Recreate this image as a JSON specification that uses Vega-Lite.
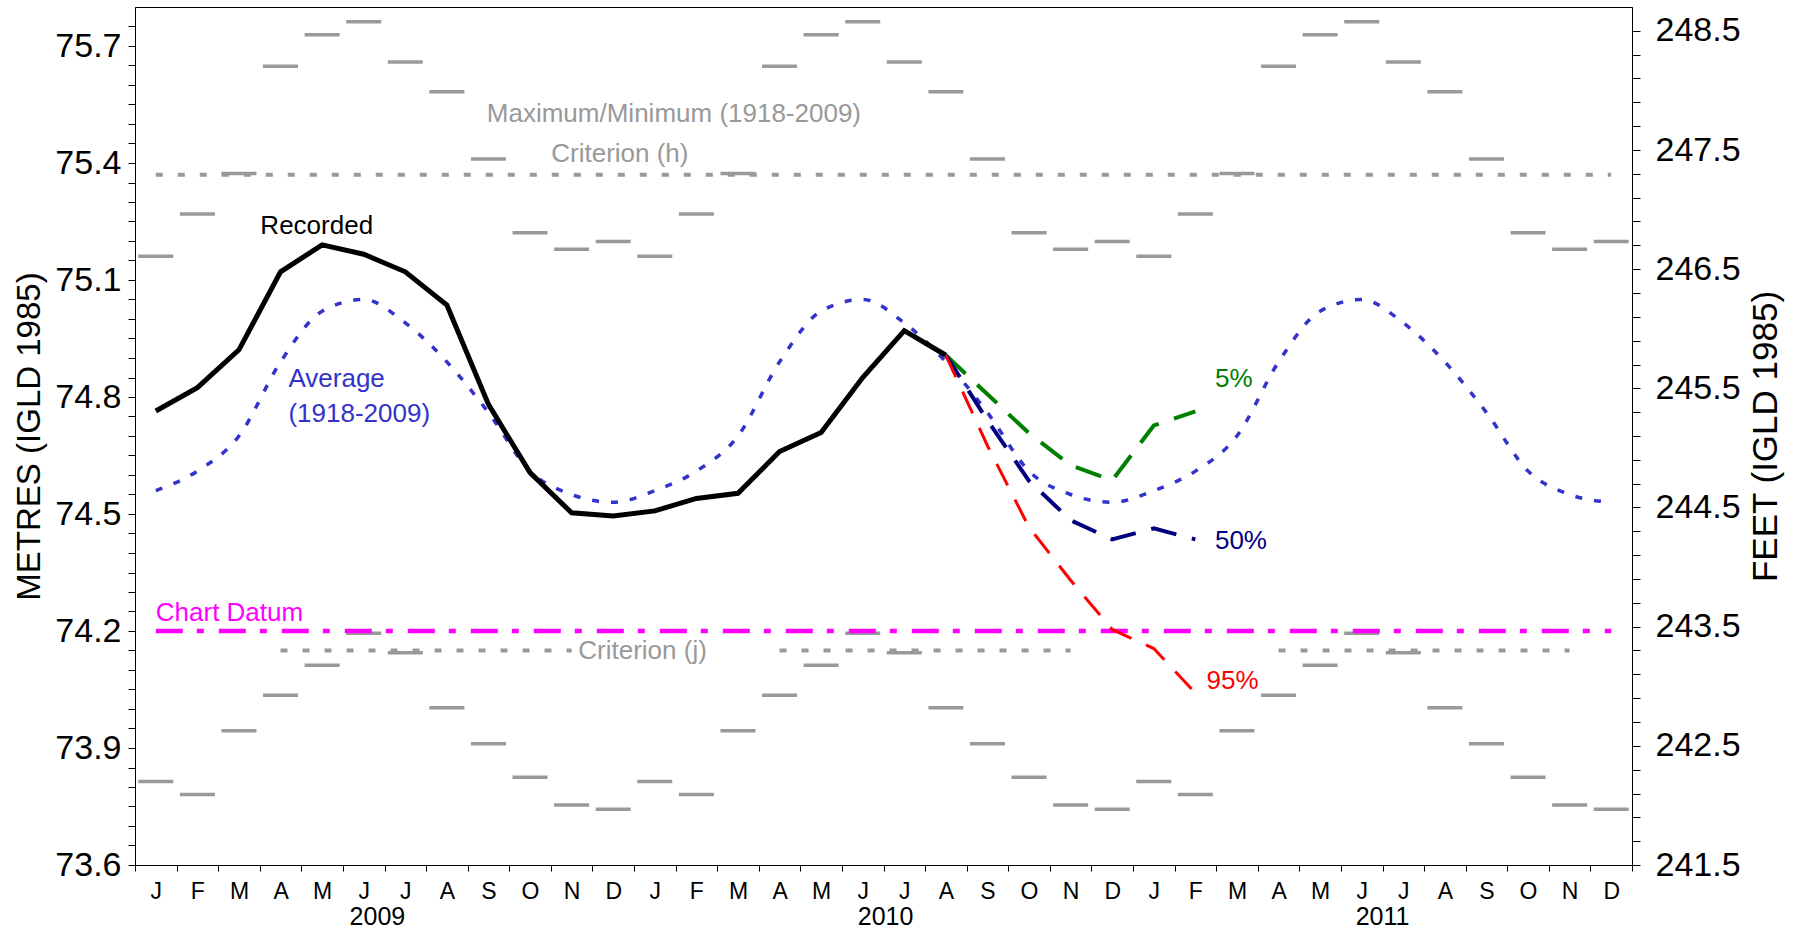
{
  "$schema": "https://vega.github.io/schema/vega-lite/v6.json",
  "width": 1497,
  "height": 858,
  "autosize": {"type": "none"},
  "padding": {"left": 135, "top": 7, "right": 171, "bottom": 64},
  "background": "white",
  "config": {
    "font": "Liberation Sans",
    "view": {"stroke": "#000000", "strokeWidth": 1},
    "axis": {"grid": false, "domainColor": "#000000", "tickColor": "#000000", "labelColor": "#000000", "titleColor": "#000000", "titleFontWeight": "normal", "labelFlush": false, "labelOverlap": false, "labelFont": "Liberation Sans", "titleFont": "Liberation Sans"}
  },
  "datasets": {
    "hist": [
      {"month": 1, "stat": "max", "level": 75.161}, {"month": 2, "stat": "max", "level": 75.269}, {"month": 3, "stat": "max", "level": 75.373}, {"month": 4, "stat": "max", "level": 75.648}, {"month": 5, "stat": "max", "level": 75.729}, {"month": 6, "stat": "max", "level": 75.762}, {"month": 7, "stat": "max", "level": 75.659}, {"month": 8, "stat": "max", "level": 75.583}, {"month": 9, "stat": "max", "level": 75.41}, {"month": 10, "stat": "max", "level": 75.221}, {"month": 11, "stat": "max", "level": 75.179}, {"month": 12, "stat": "max", "level": 75.199},
      {"month": 13, "stat": "max", "level": 75.161}, {"month": 14, "stat": "max", "level": 75.269}, {"month": 15, "stat": "max", "level": 75.373}, {"month": 16, "stat": "max", "level": 75.648}, {"month": 17, "stat": "max", "level": 75.729}, {"month": 18, "stat": "max", "level": 75.762}, {"month": 19, "stat": "max", "level": 75.659}, {"month": 20, "stat": "max", "level": 75.583}, {"month": 21, "stat": "max", "level": 75.41}, {"month": 22, "stat": "max", "level": 75.221}, {"month": 23, "stat": "max", "level": 75.179}, {"month": 24, "stat": "max", "level": 75.199},
      {"month": 25, "stat": "max", "level": 75.161}, {"month": 26, "stat": "max", "level": 75.269}, {"month": 27, "stat": "max", "level": 75.373}, {"month": 28, "stat": "max", "level": 75.648}, {"month": 29, "stat": "max", "level": 75.729}, {"month": 30, "stat": "max", "level": 75.762}, {"month": 31, "stat": "max", "level": 75.659}, {"month": 32, "stat": "max", "level": 75.583}, {"month": 33, "stat": "max", "level": 75.41}, {"month": 34, "stat": "max", "level": 75.221}, {"month": 35, "stat": "max", "level": 75.179}, {"month": 36, "stat": "max", "level": 75.199},
      {"month": 1, "stat": "min", "level": 73.814}, {"month": 2, "stat": "min", "level": 73.781}, {"month": 3, "stat": "min", "level": 73.944}, {"month": 4, "stat": "min", "level": 74.035}, {"month": 5, "stat": "min", "level": 74.112}, {"month": 6, "stat": "min", "level": 74.194}, {"month": 7, "stat": "min", "level": 74.144}, {"month": 8, "stat": "min", "level": 74.003}, {"month": 9, "stat": "min", "level": 73.911}, {"month": 10, "stat": "min", "level": 73.825}, {"month": 11, "stat": "min", "level": 73.754}, {"month": 12, "stat": "min", "level": 73.743},
      {"month": 13, "stat": "min", "level": 73.814}, {"month": 14, "stat": "min", "level": 73.781}, {"month": 15, "stat": "min", "level": 73.944}, {"month": 16, "stat": "min", "level": 74.035}, {"month": 17, "stat": "min", "level": 74.112}, {"month": 18, "stat": "min", "level": 74.194}, {"month": 19, "stat": "min", "level": 74.144}, {"month": 20, "stat": "min", "level": 74.003}, {"month": 21, "stat": "min", "level": 73.911}, {"month": 22, "stat": "min", "level": 73.825}, {"month": 23, "stat": "min", "level": 73.754}, {"month": 24, "stat": "min", "level": 73.743},
      {"month": 25, "stat": "min", "level": 73.814}, {"month": 26, "stat": "min", "level": 73.781}, {"month": 27, "stat": "min", "level": 73.944}, {"month": 28, "stat": "min", "level": 74.035}, {"month": 29, "stat": "min", "level": 74.112}, {"month": 30, "stat": "min", "level": 74.194}, {"month": 31, "stat": "min", "level": 74.144}, {"month": 32, "stat": "min", "level": 74.003}, {"month": 33, "stat": "min", "level": 73.911}, {"month": 34, "stat": "min", "level": 73.825}, {"month": 35, "stat": "min", "level": 73.754}, {"month": 36, "stat": "min", "level": 73.743}
    ],
    "avg": [
      {"month": 1, "level": 74.56}, {"month": 2, "level": 74.61}, {"month": 3, "level": 74.7}, {"month": 4, "level": 74.89}, {"month": 5, "level": 75.02}, {"month": 6, "level": 75.05}, {"month": 7, "level": 74.99}, {"month": 8, "level": 74.89}, {"month": 9, "level": 74.76}, {"month": 10, "level": 74.61}, {"month": 11, "level": 74.55}, {"month": 12, "level": 74.53},
      {"month": 13, "level": 74.56}, {"month": 14, "level": 74.61}, {"month": 15, "level": 74.7}, {"month": 16, "level": 74.89}, {"month": 17, "level": 75.02}, {"month": 18, "level": 75.05}, {"month": 19, "level": 74.99}, {"month": 20, "level": 74.89}, {"month": 21, "level": 74.76}, {"month": 22, "level": 74.61}, {"month": 23, "level": 74.55}, {"month": 24, "level": 74.53},
      {"month": 25, "level": 74.56}, {"month": 26, "level": 74.61}, {"month": 27, "level": 74.7}, {"month": 28, "level": 74.89}, {"month": 29, "level": 75.02}, {"month": 30, "level": 75.05}, {"month": 31, "level": 74.99}, {"month": 32, "level": 74.89}, {"month": 33, "level": 74.76}, {"month": 34, "level": 74.61}, {"month": 35, "level": 74.55}, {"month": 36, "level": 74.53}
    ],
    "recorded": [
      {"month": 1, "level": 74.764}, {"month": 2, "level": 74.824}, {"month": 3, "level": 74.921}, {"month": 4, "level": 75.121}, {"month": 5, "level": 75.19}, {"month": 6, "level": 75.166}, {"month": 7, "level": 75.121}, {"month": 8, "level": 75.036}, {"month": 9, "level": 74.781}, {"month": 10, "level": 74.606}, {"month": 11, "level": 74.503}, {"month": 12, "level": 74.495},
      {"month": 13, "level": 74.508}, {"month": 14, "level": 74.54}, {"month": 15, "level": 74.553}, {"month": 16, "level": 74.66}, {"month": 17, "level": 74.709}, {"month": 18, "level": 74.85}, {"month": 19, "level": 74.97}, {"month": 20, "level": 74.907}
    ],
    "f5": [
      {"month": 20, "level": 74.907}, {"month": 21, "level": 74.807}, {"month": 22, "level": 74.707}, {"month": 23, "level": 74.625}, {"month": 24, "level": 74.586}, {"month": 25, "level": 74.727}, {"month": 26, "level": 74.763}
    ],
    "f50": [
      {"month": 20, "level": 74.907}, {"month": 21, "level": 74.74}, {"month": 22, "level": 74.585}, {"month": 23, "level": 74.484}, {"month": 24, "level": 74.435}, {"month": 25, "level": 74.463}, {"month": 26, "level": 74.435}
    ],
    "f95": [
      {"month": 20, "level": 74.907}, {"month": 21, "level": 74.675}, {"month": 22, "level": 74.466}, {"month": 23, "level": 74.33}, {"month": 24, "level": 74.204}, {"month": 25, "level": 74.155}, {"month": 26, "level": 74.041}
    ],
    "critH": [
      {"month": 1, "level": 75.37}, {"month": 36, "level": 75.37}
    ],
    "critJ": [
      {"month": 4, "level": 74.15, "year": 2009}, {"month": 11, "level": 74.15, "year": 2009},
      {"month": 16, "level": 74.15, "year": 2010}, {"month": 23, "level": 74.15, "year": 2010},
      {"month": 28, "level": 74.15, "year": 2011}, {"month": 35, "level": 74.15, "year": 2011}
    ],
    "chartDatum": [
      {"month": 1, "level": 74.2}, {"month": 36, "level": 74.2}
    ],
    "labelsCenter": [
      {"month": 13.46, "level": 75.526, "text": "Maximum/Minimum (1918-2009)", "series": "Max/Min"},
      {"month": 12.16, "level": 75.423, "text": "Criterion (h)", "series": "Max/Min"},
      {"month": 4.87, "level": 75.239, "text": "Recorded", "series": "Recorded"}
    ],
    "labelsLeft": [
      {"month": 4.19, "level": 74.846, "text": "Average", "series": "Average"},
      {"month": 4.19, "level": 74.756, "text": "(1918-2009)", "series": "Average"},
      {"month": 11.16, "level": 74.148, "text": "Criterion (j)", "series": "Max/Min"},
      {"month": 1.0, "level": 74.247, "text": "Chart Datum", "series": "Chart Datum"},
      {"month": 26.47, "level": 74.846, "text": "5%", "series": "5%"},
      {"month": 26.47, "level": 74.431, "text": "50%", "series": "50%"},
      {"month": 26.27, "level": 74.071, "text": "95%", "series": "95%"}
    ],
    "years": [
      {"month": 6.33, "level": 73.6, "text": "2009"}, {"month": 18.55, "level": 73.6, "text": "2010"}, {"month": 30.5, "level": 73.6, "text": "2011"}
    ],
    "feet": [
      {"ft": 241.5}, {"ft": 248.7}
    ]
  },
  "layer": [
    {
      "encoding": {
        "x": {
          "field": "month", "type": "quantitative",
          "scale": {"domain": [0.5, 36.5], "nice": false, "zero": false},
          "axis": {
            "title": null,
            "values": [0.5, 1.5, 2.5, 3.5, 4.5, 5.5, 6.5, 7.5, 8.5, 9.5, 10.5, 11.5, 12.5, 13.5, 14.5, 15.5, 16.5, 17.5, 18.5, 19.5, 20.5, 21.5, 22.5, 23.5, 24.5, 25.5, 26.5, 27.5, 28.5, 29.5, 30.5, 31.5, 32.5, 33.5, 34.5, 35.5, 36.5],
            "labelExpr": "datum.value < 36 ? ['J','F','M','A','M','J','J','A','S','O','N','D'][round(datum.value - 0.5) % 12] : ''",
            "labelOffset": 20.8,
            "labelAlign": "center",
            "labelFontSize": 23,
            "labelPadding": 9,
            "tickSize": 6
          }
        },
        "y": {
          "field": "level", "type": "quantitative",
          "scale": {"domain": [73.6, 75.8], "nice": false, "zero": false},
          "axis": {
            "orient": "left",
            "title": "METRES (IGLD 1985)",
            "values": [73.6, 73.65, 73.7, 73.75, 73.8, 73.85, 73.9, 73.95, 74, 74.05, 74.1, 74.15, 74.2, 74.25, 74.3, 74.35, 74.4, 74.45, 74.5, 74.55, 74.6, 74.65, 74.7, 74.75, 74.8, 74.85, 74.9, 74.95, 75, 75.05, 75.1, 75.15, 75.2, 75.25, 75.3, 75.35, 75.4, 75.45, 75.5, 75.55, 75.6, 75.65, 75.7, 75.75],
            "labelExpr": "abs((datum.value - 73.6) / 0.3 - round((datum.value - 73.6) / 0.3)) < 0.001 ? format(datum.value, '.1f') : ''",
            "labelFontSize": 34,
            "labelPadding": 7,
            "tickSize": 7,
            "titleFontSize": 33,
            "titleAngle": 270,
            "titleBaseline": "bottom",
            "titlePadding": 8
          }
        }
      },
      "layer": [
        {"data": {"name": "hist"}, "mark": {"type": "tick", "orient": "horizontal", "size": 35, "thickness": 3.5, "color": "#999999", "opacity": 1}},
        {"data": {"name": "critH"}, "mark": {"type": "line", "color": "#999999", "strokeWidth": 4, "strokeDash": [7, 15]}},
        {"data": {"name": "critJ"}, "mark": {"type": "line", "color": "#999999", "strokeWidth": 4, "strokeDash": [7, 15]}, "encoding": {"detail": {"field": "year", "type": "nominal"}}},
        {"data": {"name": "chartDatum"}, "mark": {"type": "line", "color": "#ff00ff", "strokeWidth": 4.5, "strokeDash": [27, 14, 7, 15]}},
        {"data": {"name": "avg"}, "mark": {"type": "line", "color": "#3333cc", "strokeWidth": 3.5, "strokeDash": [7, 12], "interpolate": "monotone"}},
        {"data": {"name": "recorded"}, "mark": {"type": "line", "color": "#000000", "strokeWidth": 5}},
        {"data": {"name": "f5"}, "mark": {"type": "line", "color": "#008000", "strokeWidth": 4, "strokeDash": [27, 16]}},
        {"data": {"name": "f50"}, "mark": {"type": "line", "color": "#000080", "strokeWidth": 4, "strokeDash": [26, 16]}},
        {"data": {"name": "f95"}, "mark": {"type": "line", "color": "#ff0000", "strokeWidth": 3, "strokeDash": [24, 16]}},
        {
          "data": {"name": "labelsCenter"},
          "mark": {"type": "text", "align": "center", "baseline": "middle", "fontSize": 26},
          "encoding": {
            "text": {"field": "text", "type": "nominal"},
            "color": {"field": "series", "type": "nominal", "legend": null, "scale": {"domain": ["Max/Min", "Recorded", "Average", "Chart Datum", "5%", "50%", "95%"], "range": ["#999999", "#000000", "#3333cc", "#ff00ff", "#008000", "#000080", "#ff0000"]}}
          }
        },
        {
          "data": {"name": "labelsLeft"},
          "mark": {"type": "text", "align": "left", "baseline": "middle", "fontSize": 26},
          "encoding": {
            "text": {"field": "text", "type": "nominal"},
            "color": {"field": "series", "type": "nominal", "legend": null, "scale": {"domain": ["Max/Min", "Recorded", "Average", "Chart Datum", "5%", "50%", "95%"], "range": ["#999999", "#000000", "#3333cc", "#ff00ff", "#008000", "#000080", "#ff0000"]}}
          }
        },
        {
          "data": {"name": "years"},
          "mark": {"type": "text", "align": "center", "baseline": "middle", "fontSize": 25, "dy": 52, "color": "#000000"},
          "encoding": {
            "text": {"field": "text", "type": "nominal"}
          }
        }
      ]
    },
    {
      "data": {"name": "feet"},
      "mark": {"type": "point", "opacity": 0},
      "encoding": {
        "y": {
          "field": "ft", "type": "quantitative",
          "scale": {"domain": [241.5, 248.7], "nice": false, "zero": false},
          "axis": {
            "orient": "right",
            "title": "FEET (IGLD 1985)",
            "values": [241.5, 241.7, 241.9, 242.1, 242.3, 242.5, 242.7, 242.9, 243.1, 243.3, 243.5, 243.7, 243.9, 244.1, 244.3, 244.5, 244.7, 244.9, 245.1, 245.3, 245.5, 245.7, 245.9, 246.1, 246.3, 246.5, 246.7, 246.9, 247.1, 247.3, 247.5, 247.7, 247.9, 248.1, 248.3, 248.5],
            "labelExpr": "abs((datum.value - 241.5) - round(datum.value - 241.5)) < 0.001 ? format(datum.value, '.1f') : ''",
            "labelFontSize": 34,
            "labelPadding": 15,
            "tickSize": 8,
            "titleFontSize": 35,
            "titleAngle": 270,
            "titleBaseline": "top",
            "titlePadding": 8
          }
        }
      }
    }
  ],
  "resolve": {"scale": {"y": "independent"}}
}
